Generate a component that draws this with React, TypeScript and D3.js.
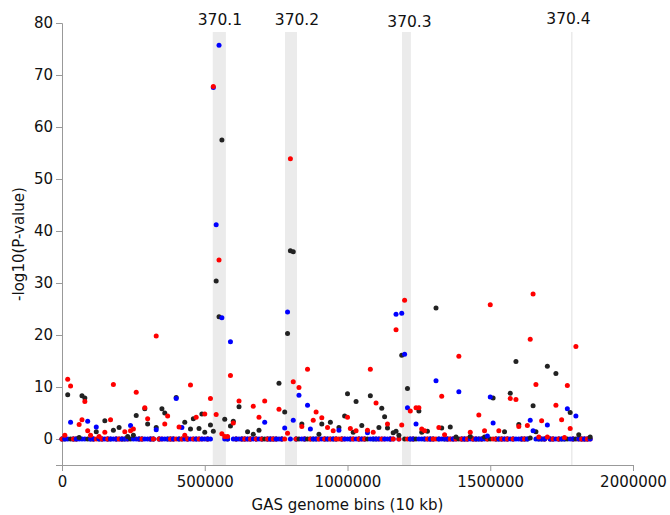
import React, { useEffect, useRef } from "react";
import * as d3 from "d3";

// GAS genome bins of 10 kb, bins 0..185
const binSize = 10000;
const binCount = 186;

// [bin, -log10(P)] for bins with a value above zero; all other bins are 0
const blackPeaks: [number, number][] = [
  [2, 8.5], [6, 0.3], [7, 8.3], [8, 7.9], [12, 1.4], [15, 3.5], [18, 1.7], [20, 2.2],
  [23, 0.5], [25, 0.7], [26, 4.5], [29, 5.8], [30, 2.9], [33, 2.2], [35, 5.8], [36, 5.0],
  [40, 8.0], [43, 3.2], [45, 1.9], [46, 3.9], [48, 2.0], [49, 4.8], [50, 1.3], [52, 2.7],
  [53, 1.5], [54, 30.4], [55, 23.5], [56, 57.5], [57, 3.8], [59, 2.5], [60, 3.4], [62, 6.2],
  [65, 1.4], [67, 0.9], [69, 1.7], [76, 10.7], [78, 5.2], [79, 20.3], [80, 36.2], [81, 36.0],
  [84, 2.9], [90, 0.9], [91, 2.9], [94, 3.2], [97, 2.2], [99, 4.4], [100, 8.7], [102, 1.3],
  [103, 7.2], [105, 2.6], [108, 8.3], [111, 2.2], [112, 5.9], [113, 4.3], [114, 2.1], [116, 1.2],
  [117, 1.5], [118, 0.7], [119, 16.1], [121, 9.7], [125, 5.4], [126, 1.3], [128, 1.5], [131, 25.2],
  [133, 2.1], [136, 2.3], [138, 0.4], [143, 0.5], [148, 0.4], [151, 7.9], [155, 1.4], [157, 8.8],
  [159, 14.9], [160, 2.8], [164, 0.2], [165, 6.4], [166, 1.4], [170, 14.0], [173, 12.6], [178, 5.1],
  [181, 0.8], [185, 0.4],
];

const bluePeaks: [number, number][] = [
  [3, 3.2], [9, 3.4], [12, 2.3], [24, 2.6], [33, 1.8], [40, 7.8], [42, 2.2], [53, 67.6],
  [54, 41.2], [55, 75.7], [56, 23.3], [59, 18.7], [71, 3.2], [78, 2.1], [79, 24.4], [81, 3.6],
  [83, 8.4], [86, 6.5], [87, 1.9], [97, 1.7], [107, 1.2], [117, 24.0], [119, 24.2], [120, 16.3],
  [121, 6.0], [124, 2.9], [131, 11.2], [139, 9.1], [149, 0.6], [150, 8.1], [151, 3.1], [164, 3.6],
  [165, 1.6], [170, 2.7], [177, 5.8], [180, 4.4],
];

const redPeaks: [number, number][] = [
  [1, 0.7], [2, 11.5], [3, 10.2], [6, 2.8], [7, 3.7], [8, 7.2], [9, 1.6], [10, 0.7],
  [13, 0.5], [15, 1.3], [17, 3.7], [18, 10.5], [22, 1.4], [24, 1.6], [25, 1.9], [26, 9.0],
  [29, 6.0], [30, 3.9], [33, 19.8], [36, 2.9], [37, 4.4], [41, 2.3], [43, 0.7], [45, 10.4],
  [47, 4.2], [50, 4.8], [52, 7.8], [53, 67.8], [54, 4.7], [55, 34.4], [56, 1.0], [57, 0.5],
  [58, 0.5], [59, 12.2], [60, 3.1], [62, 7.3], [67, 6.3], [69, 4.2], [71, 7.3], [76, 5.7],
  [79, 1.1], [80, 53.9], [81, 11.0], [83, 9.9], [84, 2.4], [86, 13.4], [88, 3.6], [89, 5.2],
  [91, 4.1], [93, 2.2], [95, 1.6], [100, 4.2], [101, 2.0], [103, 1.6], [107, 1.7], [108, 13.4],
  [109, 1.3], [110, 6.9], [114, 2.9], [117, 21.0], [119, 2.7], [120, 26.7], [122, 5.4], [124, 6.0],
  [125, 6.0], [126, 1.9], [127, 1.6], [132, 2.2], [133, 8.2], [134, 0.8], [139, 15.9], [143, 1.3],
  [146, 4.6], [148, 1.6], [150, 25.8], [153, 1.6], [157, 7.8], [159, 7.6], [160, 2.4], [163, 2.6],
  [164, 19.2], [165, 27.9], [166, 10.5], [167, 0.4], [168, 3.5], [170, 0.4], [173, 6.5], [175, 3.7],
  [176, 0.3], [177, 10.3], [178, 2.0], [180, 17.8],
];

// highlighted loci (genome position)
const regionNames = ["370.1", "370.2", "370.3", "370.4"];
const regionStarts = [528000, 781000, 1191000, 1783000];
const regionEnds = [574000, 823000, 1222000, 1788000];
const regionLabelPos = [553000, 823000, 1217000, 1774000];

const xTicks = [0, 500000, 1000000, 1500000, 2000000];
const yTicks = [0, 10, 20, 30, 40, 50, 60, 70, 80];

const series = [
  { name: "black", color: "#222222", peaks: blackPeaks },
  { name: "blue", color: "#0000ff", peaks: bluePeaks },
  { name: "red", color: "#ff0000", peaks: redPeaks },
];

type Pt = { bin: number; value: number; color: string; order: number };

function buildPoints(): Pt[] {
  const pts: Pt[] = [];
  series.forEach((s, si) => {
    const m = new Map(s.peaks.map((p) => [p[0], p[1]]));
    for (let b = 0; b < binCount; b++) {
      pts.push({ bin: b, value: m.get(b) ?? 0, color: s.color, order: si });
    }
  });
  return pts;
}

const width = 670;
const height = 515;
const margin = { top: 23, right: 37, bottom: 50, left: 62 };
// small vertical nudges of the locus labels
const labelBaselines = [25, 25, 27, 23.5];

export default function App() {
  const xAxisRef = useRef<SVGGElement>(null);
  const yAxisRef = useRef<SVGGElement>(null);

  const x = d3.scaleLinear().domain([0, 2000000]).range([margin.left, width - margin.right]);
  const y = d3.scaleLinear().domain([-5, 80]).range([height - margin.bottom, margin.top]);

  useEffect(() => {
    const xa = d3.select(xAxisRef.current!);
    xa.call(d3.axisBottom(x).tickValues(xTicks).tickFormat(d3.format("d")).tickPadding(5));
    const ya = d3.select(yAxisRef.current!);
    ya.call(d3.axisLeft(y).tickValues(yTicks).tickFormat(d3.format("d")));
    [xa, ya].forEach((g) => {
      g.selectAll("path,line").attr("stroke", "#999");
      g.selectAll("text").attr("fill", "#111").attr("font-size", 15).attr("font-family", "DejaVu Sans");
    });
  });

  const pts = buildPoints();
  const zeros = pts
    .filter((p) => p.value === 0)
    .sort((a, b) => {
      if (a.bin !== b.bin) return a.bin - b.bin;
      // alternate blue / red on top along the baseline
      const oa = a.order === 0 ? -1 : a.bin % 2 === 0 ? a.order : 3 - a.order;
      const ob = b.order === 0 ? -1 : b.bin % 2 === 0 ? b.order : 3 - b.order;
      return oa - ob;
    });
  const peaks = pts.filter((p) => p.value !== 0).sort((a, b) => a.order - b.order);

  const plotBottom = height - margin.bottom;

  return (
    <svg
      width={width}
      height={height}
      style={{ position: "absolute", left: 0, top: 0, background: "#fff" }}
      fontFamily="DejaVu Sans"
    >
      {regionNames.map((n, i) => (
        <g key={n}>
          <rect
            x={x(regionStarts[i])}
            y={32}
            width={Math.max(1.5, x(regionEnds[i]) - x(regionStarts[i]))}
            height={plotBottom - 32}
            fill="#ebebeb"
          />
          <text x={x(regionLabelPos[i])} y={labelBaselines[i]} textAnchor="middle" fontSize={15.5} fill="#111">
            {n}
          </text>
        </g>
      ))}
      <g ref={xAxisRef} transform={`translate(0,${plotBottom})`} />
      <g ref={yAxisRef} transform={`translate(${margin.left},0)`} />
      <g>
        {zeros.map((p, i) => (
          <circle key={"z" + i} cx={x(p.bin * binSize)} cy={y(0)} r={2.5} fill={p.color} />
        ))}
        {peaks.map((p, i) => (
          <circle key={"p" + i} cx={x(p.bin * binSize)} cy={y(p.value)} r={2.5} fill={p.color} />
        ))}
      </g>
      <text x={(margin.left + width - margin.right) / 2} y={510} textAnchor="middle" fontSize={15} fill="#111">
        GAS genome bins (10 kb)
      </text>
      <text
        transform={`translate(24,${(margin.top + plotBottom) / 2}) rotate(-90)`}
        textAnchor="middle"
        fontSize={15}
        fill="#111"
      >
        -log10(P-value)
      </text>
    </svg>
  );
}
